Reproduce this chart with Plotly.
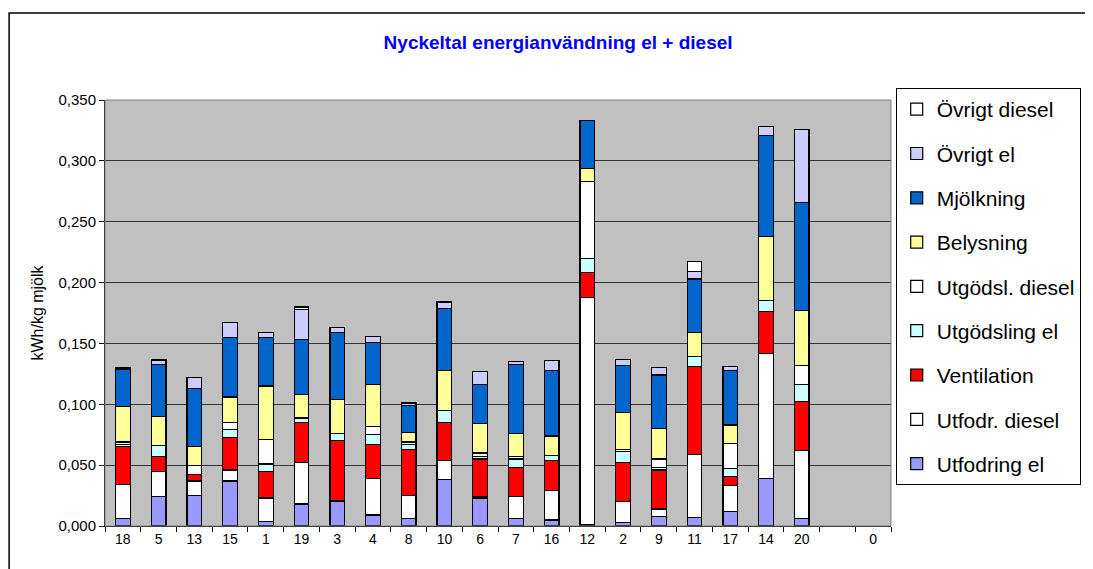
import plotly.graph_objects as go

# Farm ids as printed on the x axis; " " is the empty slot before 0
farms = ["18", "5", "13", "15", "1", "19", "3", "4", "8", "10", "6", "7",
         "16", "12", "2", "9", "11", "17", "14", "20", " ", "0"]

# kWh/kg mjölk per category, stacked bottom to top
utfodring_el = [0.006, 0.024, 0.025, 0.037, 0.004, 0.018, 0.020, 0.009, 0.006, 0.038, 0.023,
                0.006, 0.005, 0.001, 0.003, 0.008, 0.007, 0.012, 0.039, 0.006, None, None]
utfodr_diesel = [0.028, 0.021, 0.012, 0.009, 0.019, 0.034, 0.001, 0.030, 0.019, 0.016, 0.001,
                 0.018, 0.024, 0.187, 0.017, 0.006, 0.052, 0.021, 0.103, 0.056, None, None]
ventilation = [0.031, 0.012, 0.005, 0.027, 0.022, 0.033, 0.049, 0.028, 0.038, 0.031, 0.031,
               0.024, 0.025, 0.020, 0.032, 0.032, 0.072, 0.008, 0.034, 0.040, None, None]
utgodsling_el = [0.002, 0.009, None, 0.006, 0.006, 0.003, 0.006, 0.008, 0.004, 0.010, 0.002,
                 0.007, 0.004, 0.012, 0.009, 0.002, 0.008, 0.006, 0.009, 0.014, None, None]
utgodsl_diesel = [0.002, None, 0.008, 0.006, 0.020, 0.001, None, 0.007, 0.002, None, 0.003,
                  0.002, None, 0.063, 0.002, 0.007, None, 0.021, None, 0.016, None, None]
belysning = [0.029, 0.024, 0.015, 0.021, 0.044, 0.019, 0.028, 0.034, 0.008, 0.033, 0.024,
             0.019, 0.016, 0.011, 0.030, 0.025, 0.020, 0.015, 0.053, 0.045, None, None]
mjolkning = [0.031, 0.043, 0.048, 0.049, 0.040, 0.045, 0.055, 0.035, 0.022, 0.051, 0.032,
             0.057, 0.054, 0.039, 0.039, 0.044, 0.044, 0.045, 0.083, 0.089, None, None]
ovrigt_el = [0.001, 0.003, 0.009, 0.012, 0.004, 0.025, 0.004, 0.005, 0.002, 0.005, 0.011,
             0.002, 0.008, None, 0.005, 0.006, 0.006, 0.003, 0.007, 0.060, None, None]
ovrigt_diesel = [None, 0.001, None, None, None, 0.002, None, None, None, None, None,
                 None, None, None, None, None, 0.008, None, None, None, None, None]

series = [
    ("Utfodring el", utfodring_el, "#9999FF"),
    ("Utfodr. diesel", utfodr_diesel, "#FFFFFF"),
    ("Ventilation", ventilation, "#FF0000"),
    ("Utgödsling el", utgodsling_el, "#CCFFFF"),
    ("Utgödsl. diesel", utgodsl_diesel, "#FFFFFF"),
    ("Belysning", belysning, "#FFFF99"),
    ("Mjölkning", mjolkning, "#0066CC"),
    ("Övrigt el", ovrigt_el, "#CCCCFF"),
    ("Övrigt diesel", ovrigt_diesel, "#FFFFFF"),
]

fig = go.Figure()
for i, (name, vals, color) in enumerate(series):
    fig.add_trace(
        go.Bar(
            x=farms,
            y=vals,
            name=name,
            legendgroup=name,
            legendrank=len(series) - i,  # top of stack first in legend
            marker={"color": color, "line": {"color": "#000000", "width": 1.2}},
        )
    )

font = "Liberation Sans, Arial, sans-serif"
# page body adds an 8px margin, so the figure is 8px smaller than the window
fig.update_layout(
    barmode="stack",
    bargap=0.59,
    width=1085,
    height=561,
    margin={"l": 97, "r": 200, "t": 92, "b": 43},
    paper_bgcolor="#FFFFFF",
    plot_bgcolor="#C0C0C0",
    font={"family": font, "size": 14, "color": "#000000"},
    title={
        "text": "<b>Nyckeltal energianvändning el + diesel</b>",
        "font": {"family": font, "size": 19, "color": "#0000FF"},
        "x": 0.507,
        "xanchor": "center",
        "y": 0.939,
        "yanchor": "middle",
    },
    legend={
        "traceorder": "grouped",
        "x": 1.006,
        "xanchor": "left",
        "y": 1.028,
        "yanchor": "top",
        "bgcolor": "#FFFFFF",
        "bordercolor": "#000000",
        "borderwidth": 1,
        "font": {"family": font, "size": 21},
        "tracegroupgap": 14,
        "itemwidth": 30,
        "maxheight": 600,
    },
    xaxis={
        "type": "category",
        "showline": True,
        "linecolor": "#000000",
        "linewidth": 1,
        "ticks": "outside",
        "tickson": "boundaries",
        "ticklen": 5,
        "tickcolor": "#000000",
        "showgrid": False,
        "tickfont": {"size": 14},
    },
    yaxis={
        "range": [0, 0.35],
        "dtick": 0.05,
        "tickformat": ".3f",
        "showline": True,
        "linecolor": "#000000",
        "linewidth": 1,
        "ticks": "outside",
        "ticklen": 5,
        "tickcolor": "#000000",
        "gridcolor": "#333333",
        "gridwidth": 1,
        "zeroline": False,
        "title": {"text": "kWh/kg mjölk", "font": {"size": 16}, "standoff": 10},
        "tickfont": {"size": 15},
    },
    separators=",.",
    shapes=[
        # plot area frame
        {"type": "rect", "xref": "paper", "yref": "paper", "x0": 0, "x1": 1, "y0": 0, "y1": 1,
         "line": {"color": "#808080", "width": 1}},
        # outer chart border
        {"type": "rect", "xref": "paper", "yref": "paper", "x0": -0.122, "x1": 1.3, "y0": -0.2,
         "y1": 1.204, "line": {"color": "#000000", "width": 1.5}},
    ],
)

fig.write_html("out.html")
